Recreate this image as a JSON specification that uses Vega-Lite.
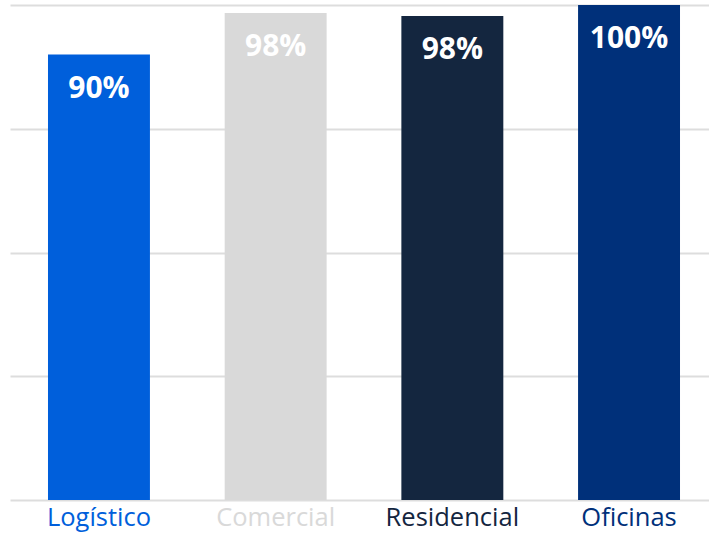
{
  "$schema": "https://vega.github.io/schema/vega-lite/v6.json",
  "width": 699,
  "height": 495,
  "autosize": {"type": "none"},
  "padding": {"left": 10, "top": 5, "right": 0, "bottom": 35},
  "background": "white",
  "config": {"view": {"stroke": null}, "font": "Open Sans"},
  "data": {
    "values": [
      {"sector": "Logístico", "value": 90, "label": "90%"},
      {"sector": "Comercial", "value": 98.4, "label": "98%"},
      {"sector": "Residencial", "value": 97.8, "label": "98%"},
      {"sector": "Oficinas", "value": 100, "label": "100%"}
    ]
  },
  "encoding": {
    "x": {
      "field": "sector",
      "type": "nominal",
      "sort": null,
      "scale": {"range": [0, 708], "paddingInner": 0.423, "paddingOuter": 0.215},
      "axis": {
        "title": null,
        "ticks": false,
        "domain": false,
        "labelAngle": 0,
        "labelFont": "Open Sans",
        "labelFontSize": 25.5,
        "labelPadding": 5,
        "labelColor": {
          "condition": [
            {"test": "datum.value == 'Logístico'", "value": "#005fdb"},
            {"test": "datum.value == 'Comercial'", "value": "#d9d9d9"},
            {"test": "datum.value == 'Residencial'", "value": "#14263f"}
          ],
          "value": "#00307a"
        }
      }
    },
    "y": {
      "field": "value",
      "type": "quantitative",
      "scale": {"domain": [0, 100], "nice": false},
      "axis": {
        "title": null,
        "labels": false,
        "ticks": false,
        "domain": false,
        "values": [0, 25, 50, 75, 100],
        "gridColor": "#dddddd",
        "gridWidth": 2
      }
    }
  },
  "layer": [
    {
      "mark": {"type": "bar"},
      "encoding": {
        "color": {
          "field": "sector",
          "type": "nominal",
          "legend": null,
          "scale": {
            "domain": ["Logístico", "Comercial", "Residencial", "Oficinas"],
            "range": ["#005fdb", "#d9d9d9", "#14263f", "#00307a"]
          }
        }
      }
    },
    {
      "mark": {
        "type": "text",
        "baseline": "middle",
        "dy": 34,
        "font": "Open Sans",
        "fontSize": 30,
        "fontWeight": "bold",
        "color": "white"
      },
      "encoding": {"text": {"field": "label"}}
    }
  ]
}
